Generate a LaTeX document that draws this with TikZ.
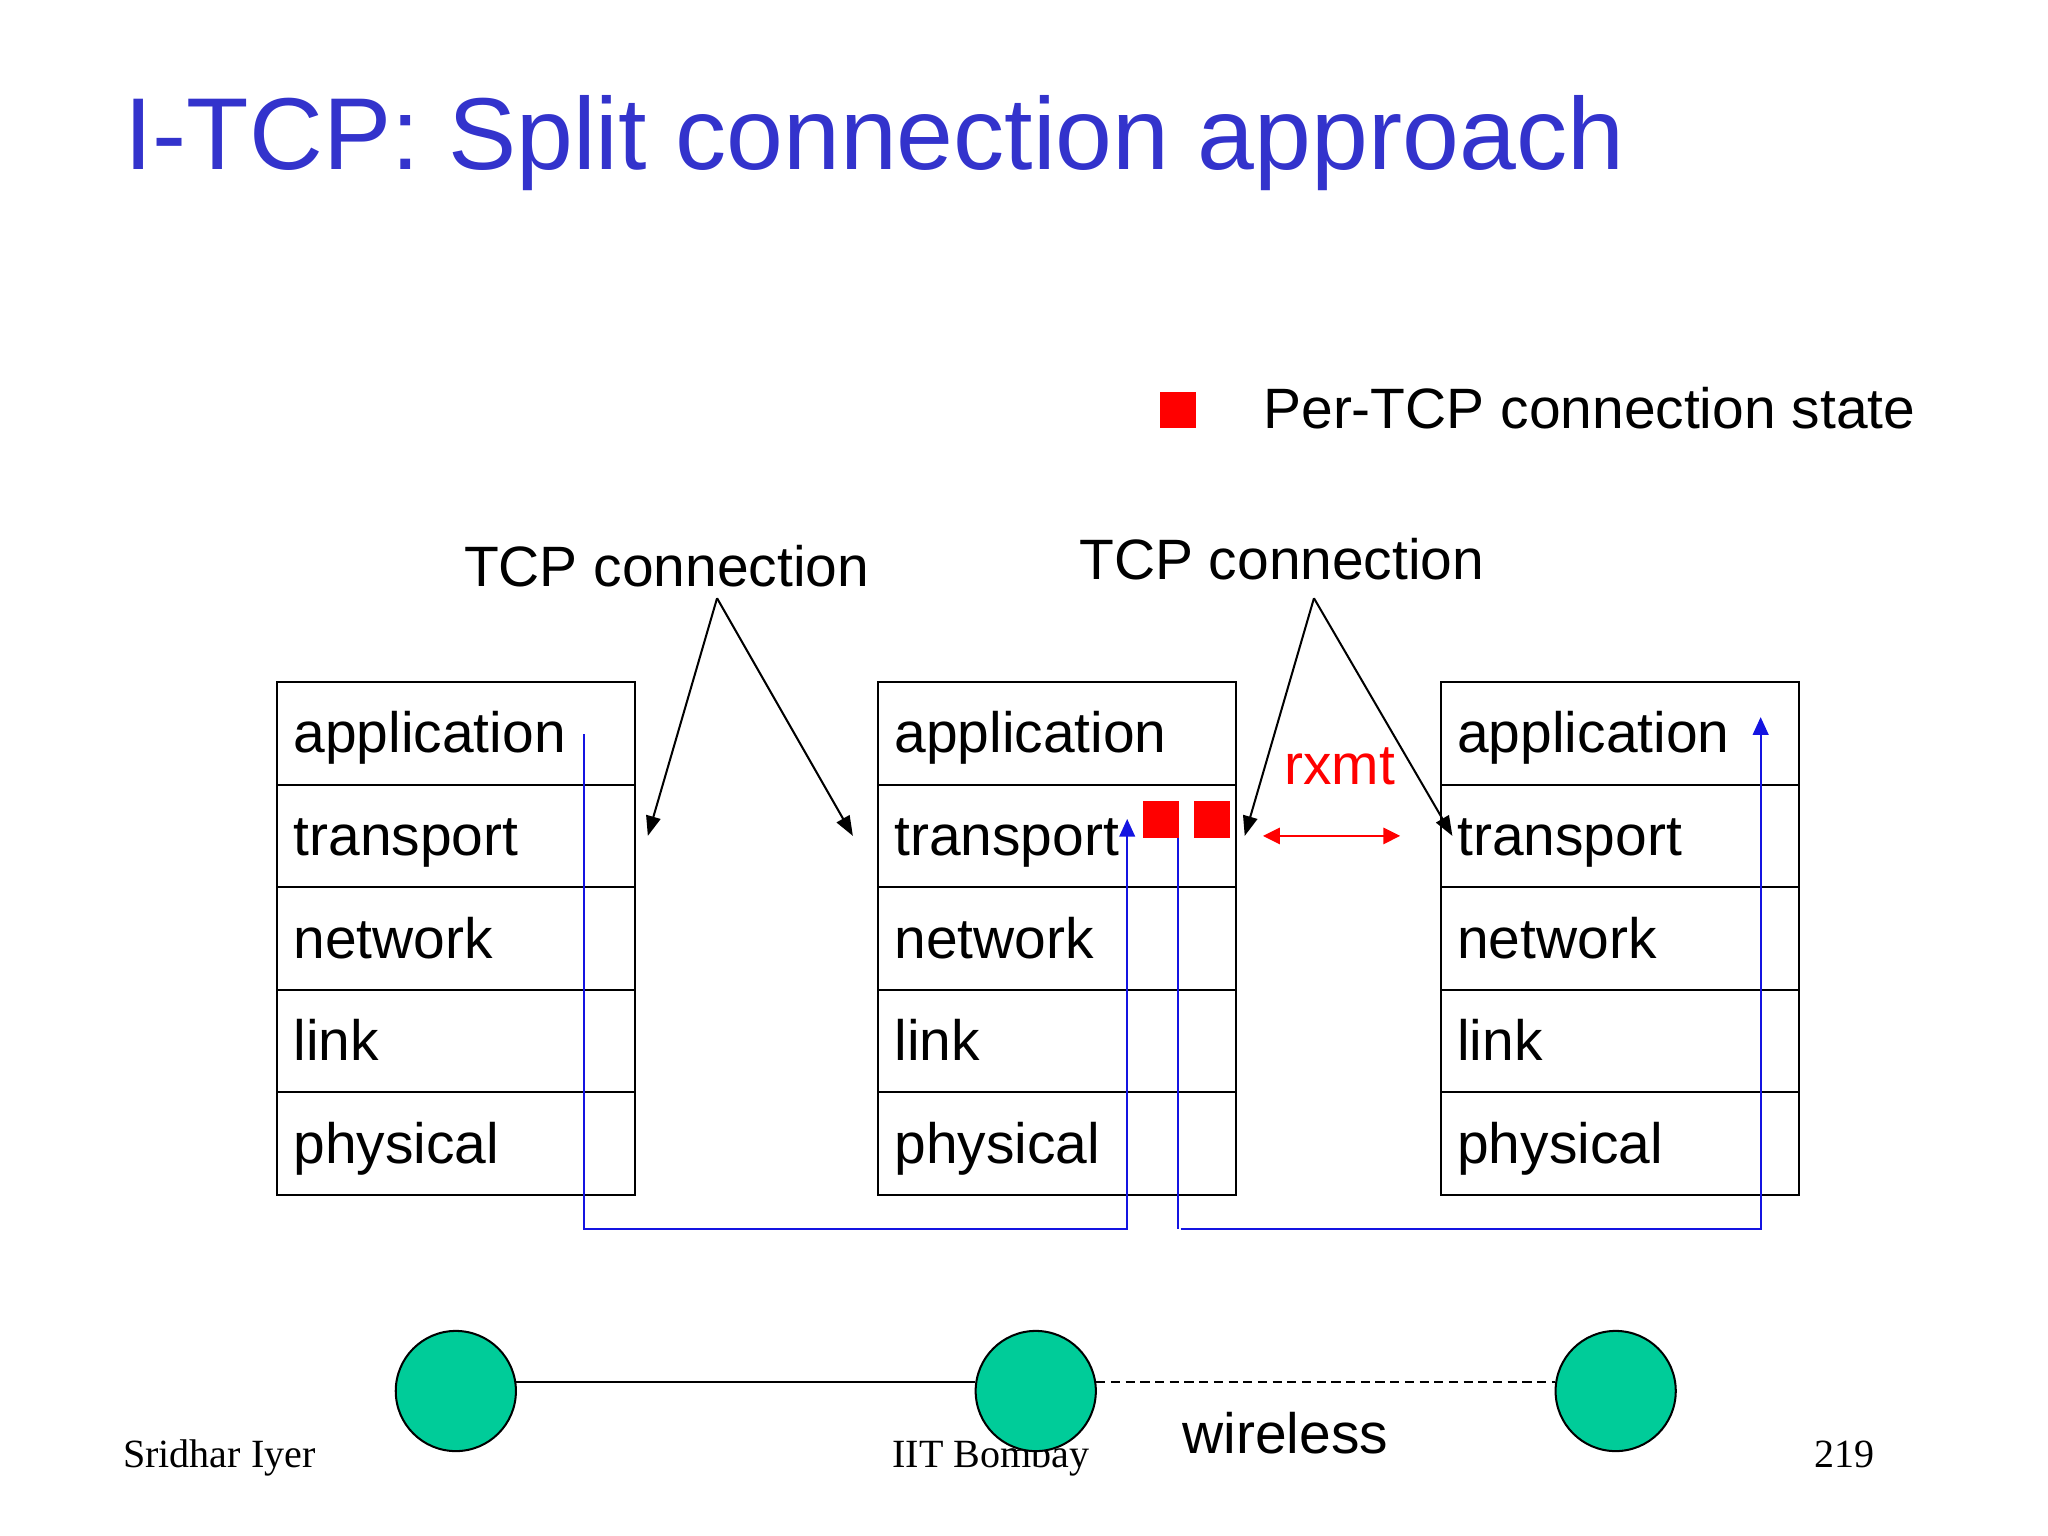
\documentclass[tikz,border=0pt]{standalone}
\usepackage{fontspec}
\setmainfont{Liberation Sans}
\newfontfamily\footerfont{Liberation Serif}
\usetikzlibrary{arrows.meta}
\definecolor{titleblue}{RGB}{51,51,204}
\definecolor{hostgreen}{RGB}{0,204,153}
\definecolor{linkblue}{RGB}{20,20,225}
\tikzset{
  label text/.style={inner sep=0pt, anchor=base west, font=\fontsize{31}{37}\selectfont},
  footer text/.style={inner sep=0pt, anchor=base west, font=\footerfont\fontsize{21.8}{26}\selectfont},
  layer/.style={draw, line width=1.1pt, minimum width=6.85cm, minimum height=1.96cm, inner xsep=0.32cm, inner ysep=0pt,
    text width=6.21cm, align=left, text height=1.05cm, text depth=0.3cm, font=\fontsize{31}{37}\selectfont},
  state/.style={fill=red, inner sep=0pt, minimum size=0.7cm},
  host/.style={circle, draw, line width=1.1pt, fill=hostgreen, inner sep=0pt, minimum size=2.3cm},
  pointer/.style={line width=1.1pt, -{Triangle[length=0.38cm,width=0.28cm]}},
  path line/.style={line width=1.1pt, linkblue},
  path arrow/.style={line width=1.1pt, linkblue, -{Triangle[length=0.34cm,width=0.3cm]}}
}
\begin{document}
\begin{tikzpicture}[x=0.025cm,y=-0.025cm]
  \useasboundingbox (0,0) rectangle (1568,1176);

  \node[inner sep=0pt, anchor=base west, text=titleblue, font=\fontsize{55.65}{66}\selectfont] (title) at (95,130) {I-TCP: Split connection approach};

  % footer goes first, the middle host sits on top of it
  \node[footer text] (author) at (94,1123.5) {Sridhar Iyer};
  \node[footer text] (school) at (683,1123.5) {IIT Bombay};
  \node[footer text] (page) at (1389,1123.5) {219};

  % legend
  \node[state] (legend) at (902,314) {};
  \node[label text] (legendtext) at (967,328) {Per-TCP connection state};

  % sender
  \node[layer] (appA) at (349,561.5) {application};
  \node[layer] (transA) at (349,640) {transport};
  \node[layer] (netA) at (349,718.5) {network};
  \node[layer] (linkA) at (349,797) {link};
  \node[layer] (physA) at (349,875.5) {physical};

  % base station
  \node[layer] (appB) at (809,561.5) {application};
  \node[layer] (transB) at (809,640) {transport};
  \node[layer] (netB) at (809,718.5) {network};
  \node[layer] (linkB) at (809,797) {link};
  \node[layer] (physB) at (809,875.5) {physical};

  % receiver
  \node[layer] (appC) at (1240,561.5) {application};
  \node[layer] (transC) at (1240,640) {transport};
  \node[layer] (netC) at (1240,718.5) {network};
  \node[layer] (linkC) at (1240,797) {link};
  \node[layer] (physC) at (1240,875.5) {physical};

  \node[state] (stateA) at (889,627.5) {};
  \node[state] (stateB) at (928,627.5) {};

  \node[label text] (tcpA) at (355,449) {TCP connection};
  \node[label text] (tcpB) at (826,444) {TCP connection};
  \node[label text, text=red] (rxmt) at (983,601) {rxmt};

  \coordinate (apexA) at (549,458);
  \coordinate (apexB) at (1006,458);
  \coordinate (endA) at (496,640);
  \coordinate (endB) at (653,640);
  \coordinate (endC) at (953,640);
  \coordinate (endD) at (1112,640);
  \draw[pointer] (apexA) -- (endA);
  \draw[pointer] (apexA) -- (endB);
  \draw[pointer] (apexB) -- (endC);
  \draw[pointer] (apexB) -- (endD);

  \coordinate (rxmtL) at (967,640);
  \coordinate (rxmtR) at (1072,640);
  \draw[line width=1.1pt, red, {Triangle[length=0.32cm,width=0.31cm]}-{Triangle[length=0.32cm,width=0.31cm]}] (rxmtL) -- (rxmtR);

  % data path
  \coordinate (pathA) at (447,562);
  \coordinate (pathB) at (863,627);
  \coordinate (pathC) at (902,941);
  \coordinate (pathD) at (904,941);
  \coordinate (pathE) at (1348,549);
  \draw[path arrow] (pathA) |- (pathB |- pathC) -- (pathB);
  \draw[path line] (stateA.south east -| pathC) -- (pathC);
  \draw[path arrow] (pathD) -| (pathE);

  % hosts
  \node[host] (hostA) at (349,1065) {};
  \node[host] (hostB) at (793,1065) {};
  \node[host] (hostC) at (1237,1065) {};
  \coordinate (wire) at (0,1058);
  \draw[line width=1.1pt] (hostA.8.7 |- wire) -- (hostB.171.3 |- wire);
  \draw[line width=1.1pt, dash pattern=on 5pt off 3pt] (hostB.8.7 |- wire) -- (hostC.171.3 |- wire);
  \node[label text] (wireless) at (905,1113) {wireless};
\end{tikzpicture}
\end{document}
